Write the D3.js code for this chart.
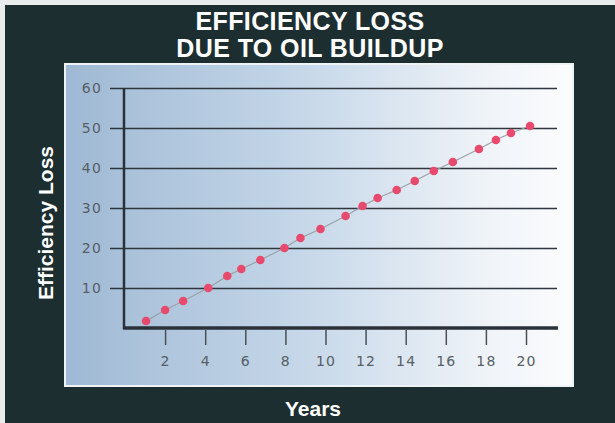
<!DOCTYPE html>
<html>
<head>
<meta charset="utf-8">
<script src="https://cdn.jsdelivr.net/npm/d3@7"></script>
<style>
  html, body { margin: 0; padding: 0; background: #e9eced; }
  svg { display: block; }
</style>
</head>
<body>
<svg id="chart"></svg>
<script>
// values
const titleLines = ['EFFICIENCY LOSS', 'DUE TO OIL BUILDUP'];
const xTicks = [2, 4, 6, 8, 10, 12, 14, 16, 18, 20];
const yTicks = [10, 20, 30, 40, 50, 60];
const years = [1.05, 2.0, 2.9, 4.15, 5.1, 5.8, 6.75, 7.95, 8.75, 9.75, 11.0,
               11.85, 12.6, 13.55, 14.45, 15.4, 16.35, 17.65, 18.5, 19.25, 20.2];
const loss = [1.75, 4.5, 6.75, 10, 13, 14.75, 17, 20, 22.5, 24.75, 28,
              30.5, 32.5, 34.5, 36.75, 39.25, 41.5, 44.75, 47, 48.75, 50.5];

const width = 615, height = 423;
const svg = d3.select('#chart').attr('width', width).attr('height', height);

// dark frame
svg.append('rect').attr('x', 5).attr('y', 5)
    .attr('width', width - 5).attr('height', height - 5)
    .attr('fill', '#1d2e31');

// panel gradient
const grad = svg.append('defs').append('linearGradient')
    .attr('id', 'panelGrad').attr('x1', 0).attr('x2', 1).attr('y1', 0).attr('y2', 0);
grad.append('stop').attr('offset', '0%').attr('stop-color', '#9fb9d4');
grad.append('stop').attr('offset', '45%').attr('stop-color', '#c4d6e8');
grad.append('stop').attr('offset', '85%').attr('stop-color', '#f1f5f9');
grad.append('stop').attr('offset', '100%').attr('stop-color', '#fbfcfd');

svg.append('rect').attr('x', 65).attr('y', 64)
    .attr('width', 508).attr('height', 322)
    .attr('fill', 'url(#panelGrad)')
    .attr('stroke', '#eef3f6').attr('stroke-width', 2);

// title
svg.append('g').selectAll('text')
    .data(titleLines)
    .enter().append('text')
    .attr('x', 310)
    .attr('y', (d, i) => 30 + i * 27)
    .attr('text-anchor', 'middle')
    .attr('fill', '#ffffff')
    .attr('font-family', 'Liberation Sans, Arial, sans-serif')
    .attr('font-weight', 'bold')
    .attr('font-size', 25)
    .attr('letter-spacing', 0.4)
    .text(d => d);

const x = d3.scaleLinear().domain([0, 20]).range([125, 526]);
const y = d3.scaleLinear().domain([0, 60]).range([328, 88]);

// horizontal gridlines + y labels
const yAxis = svg.append('g')
    .attr('transform', 'translate(110,0)')
    .call(d3.axisLeft(y).tickValues(yTicks).tickSize(-447).tickPadding(8));
yAxis.select('.domain').remove();
yAxis.selectAll('.tick line').attr('stroke', '#2f363d').attr('stroke-width', 1.6);
yAxis.selectAll('.tick text')
    .attr('fill', '#575e66')
    .attr('font-family', 'DejaVu Sans, sans-serif')
    .attr('font-size', 14)
    .attr('letter-spacing', 1.2);

// x ticks + labels
const xAxis = svg.append('g')
    .attr('transform', 'translate(0,330)')
    .call(d3.axisBottom(x).tickValues(xTicks).tickSize(15).tickPadding(11));
xAxis.select('.domain').remove();
xAxis.selectAll('.tick line').attr('stroke', '#4a5058').attr('stroke-width', 1.5);
xAxis.selectAll('.tick text')
    .attr('fill', '#575e66')
    .attr('font-family', 'DejaVu Sans, sans-serif')
    .attr('font-size', 14)
    .attr('letter-spacing', 1.2);

// vertical axis line and baseline
svg.append('line')
    .attr('x1', 124).attr('x2', 124)
    .attr('y1', y(60)).attr('y2', y(0) + 1)
    .attr('stroke', '#2a3138').attr('stroke-width', 2.5);
svg.append('line')
    .attr('x1', 123).attr('x2', 558)
    .attr('y1', y(0)).attr('y2', y(0))
    .attr('stroke', '#2a3138').attr('stroke-width', 3.5);

// series
const pts = years.map((d, i) => [d, loss[i]]);
svg.append('path')
    .datum(pts)
    .attr('fill', 'none')
    .attr('stroke', '#9aa1a8')
    .attr('stroke-width', 1.2)
    .attr('d', d3.line().x(d => x(d[0])).y(d => y(d[1])));

svg.append('g').selectAll('circle')
    .data(pts)
    .enter().append('circle')
    .attr('cx', d => x(d[0]))
    .attr('cy', d => y(d[1]))
    .attr('r', 4.3)
    .attr('fill', '#e84a6e');

// axis titles
svg.append('text')
    .attr('transform', 'translate(53,223) rotate(-90)')
    .attr('text-anchor', 'middle')
    .attr('fill', '#ffffff')
    .attr('font-family', 'Liberation Sans, Arial, sans-serif')
    .attr('font-weight', 'bold')
    .attr('font-size', 21)
    .text('Efficiency Loss');

svg.append('text')
    .attr('x', 313).attr('y', 416)
    .attr('text-anchor', 'middle')
    .attr('fill', '#ffffff')
    .attr('font-family', 'Liberation Sans, Arial, sans-serif')
    .attr('font-weight', 'bold')
    .attr('font-size', 21)
    .text('Years');
</script>
</body>
</html>
